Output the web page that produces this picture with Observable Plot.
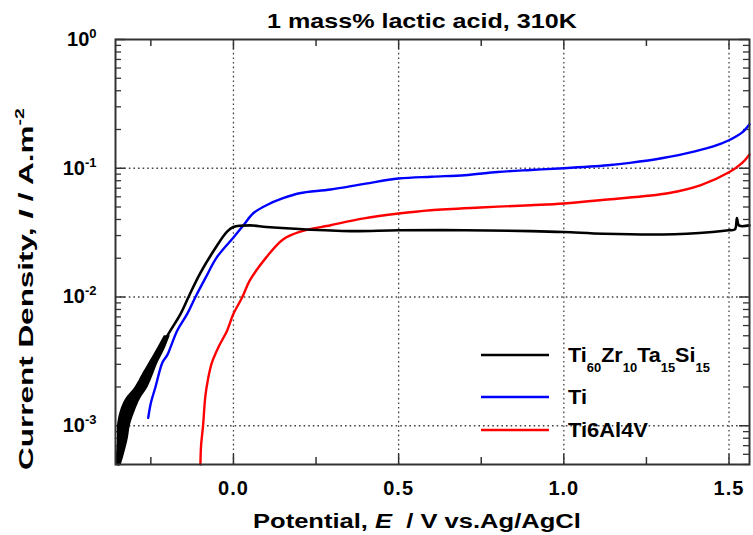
<!DOCTYPE html>
<html><head><meta charset="utf-8">
<script src="https://cdn.jsdelivr.net/npm/d3@7"></script>
<script src="https://cdn.jsdelivr.net/npm/@observablehq/plot@0.6"></script>
<style>
html,body{margin:0;padding:0;background:#fff}
svg{display:block}
</style>
</head><body>
<div id="chart"></div>
<script>
// ---------- data ----------
const chartTitle = "1 mass% lactic acid, 310K";
const seriesNames = ["Ti60Zr10Ta15Si15", "Ti", "Ti6Al4V"];
const seriesColors = ["#000000", "#0000ff", "#ff0000"];

const xDomain = [-0.357, 1.562];
const yDomain = [5e-4, 1];
const xMajorTicks = [0, 0.5, 1.0, 1.5];
const xMinorTicks = [-0.25, 0.25, 0.75, 1.25];
const xGridTicks = [0, 0.5, 1.0, 1.5];
const yMajorTicks = [1e-3, 1e-2, 1e-1, 1];
const yGridTicks = [1e-3, 1e-2, 1e-1];
const yMinorTicks = [5e-4, 6e-4, 7e-4, 8e-4, 9e-4,
  2e-3, 3e-3, 4e-3, 5e-3, 6e-3, 7e-3, 8e-3, 9e-3,
  2e-2, 3e-2, 4e-2, 5e-2, 6e-2, 7e-2, 8e-2, 9e-2,
  2e-1, 3e-1, 4e-1, 5e-1, 6e-1, 7e-1, 8e-1, 9e-1];

// Ti60Zr10Ta15Si15 (black)
const blackE = [-0.348, -0.342, -0.335, -0.331, -0.320, -0.305, -0.278, -0.259, -0.244, -0.218, -0.200,
  -0.160, -0.136, -0.100, -0.050, -0.020, 0.000, 0.050, 0.100, 0.200, 0.355, 0.500, 0.700, 0.900,
  1.000, 1.120, 1.300, 1.450, 1.500, 1.518, 1.524, 1.530, 1.562];
const blackI = [5.0e-4, 6.0e-4, 8.0e-4, 1.0e-3, 1.3e-3, 1.6e-3, 2.0e-3, 2.5e-3, 3.0e-3, 4.0e-3, 5.0e-3,
  7.4e-3, 1.0e-2, 1.54e-2, 2.5e-2, 3.2e-2, 3.5e-2, 3.6e-2, 3.5e-2, 3.37e-2, 3.25e-2, 3.3e-2, 3.3e-2, 3.25e-2,
  3.2e-2, 3.1e-2, 3.06e-2, 3.2e-2, 3.3e-2, 3.35e-2, 4.1e-2, 3.6e-2, 3.6e-2];
// noisy band of the black curve at low current (left/right edge potentials)
const bandI  = [5e-4, 6e-4, 8e-4, 1e-3, 1.3e-3, 1.6e-3, 2e-3, 2.5e-3, 3e-3, 4e-3, 5e-3];
const bandLo = [-0.357, -0.354, -0.351, -0.351, -0.342, -0.327, -0.297, -0.276, -0.258, -0.230, -0.209];
const bandHi = [-0.339, -0.330, -0.318, -0.312, -0.297, -0.282, -0.258, -0.242, -0.230, -0.206, -0.191];

// Ti (blue)
const blueE = [-0.258, -0.250, -0.236, -0.215, -0.200, -0.190, -0.170, -0.140, -0.115, -0.085, -0.050,
  0.000, 0.030, 0.060, 0.100, 0.150, 0.200, 0.294, 0.400, 0.500, 0.600, 0.700, 0.800, 0.900, 1.000,
  1.133, 1.200, 1.300, 1.400, 1.450, 1.500, 1.540, 1.562];
const blueI = [1.15e-3, 1.5e-3, 2.0e-3, 3.1e-3, 3.55e-3, 4.1e-3, 5.5e-3, 7.4e-3, 1.0e-2, 1.4e-2, 2.04e-2,
  2.9e-2, 3.6e-2, 4.47e-2, 5.16e-2, 5.85e-2, 6.4e-2, 6.84e-2, 7.6e-2, 8.32e-2, 8.6e-2, 8.83e-2, 9.36e-2, 9.7e-2, 1.0e-1,
  1.055e-1, 1.1e-1, 1.2e-1, 1.36e-1, 1.47e-1, 1.65e-1, 1.9e-1, 2.2e-1];

// Ti6Al4V (red)
const redE = [-0.100, -0.098, -0.092, -0.085, -0.077, -0.065, -0.045, -0.019, 0.000, 0.027, 0.050,
  0.100, 0.150, 0.200, 0.294, 0.395, 0.500, 0.597, 0.748, 0.900, 1.000, 1.133, 1.315, 1.415,
  1.500, 1.540, 1.562];
const redI = [5e-4, 7e-4, 1.0e-3, 1.7e-3, 2.3e-3, 3.1e-3, 4.1e-3, 5.5e-3, 7.4e-3, 1.0e-2, 1.35e-2,
  2.04e-2, 2.8e-2, 3.2e-2, 3.61e-2, 4.08e-2, 4.45e-2, 4.72e-2, 4.96e-2, 5.16e-2, 5.32e-2, 5.72e-2, 6.4e-2, 7.4e-2,
  9.3e-2, 1.1e-1, 1.28e-1];

// ---------- tables ----------
const toRows = (E, I) => E.map((e, i) => ({E: e, I: I[i]}));
const blackData = toRows(blackE, blackI);
const blueData = toRows(blueE, blueI);
const redData = toRows(redE, redI);
const bandData = bandI.map((v, i) => ({I: v, lo: bandLo[i], hi: bandHi[i]}));

// ---------- layout ----------
const W = 753, H = 535;
const mL = 115, mR = 4, mT = 39, mB = 71;
const iW = W - mL - mR, iH = H - mT - mB;
const FONT = "'Liberation Sans', Arial, Helvetica, sans-serif";
const axisColor = "#333";
const gridStyle = {stroke: "#444", strokeOpacity: 1, strokeWidth: 1.3, strokeDasharray: "1.6,3"};

const svg = Plot.plot({
  width: W, height: H,
  marginLeft: mL, marginRight: mR, marginTop: mT, marginBottom: mB,
  style: {fontFamily: FONT, background: "#fff", color: "#000"},
  x: {domain: xDomain},
  y: {type: "log", domain: yDomain},
  marks: [
    Plot.gridX(xGridTicks, gridStyle),
    Plot.gridY(yGridTicks, gridStyle),
    // inward ticks on all four sides
    Plot.ruleX(xMajorTicks, {x: d => d, insetTop: iH - 10, stroke: axisColor, strokeWidth: 1.5}),
    Plot.ruleX(xMajorTicks, {x: d => d, insetBottom: iH - 10, stroke: axisColor, strokeWidth: 1.5}),
    Plot.ruleX(xMinorTicks, {x: d => d, insetTop: iH - 7, stroke: axisColor, strokeWidth: 1.5}),
    Plot.ruleX(xMinorTicks, {x: d => d, insetBottom: iH - 7, stroke: axisColor, strokeWidth: 1.5}),
    Plot.ruleY(yMajorTicks, {y: d => d, insetRight: iW - 10, stroke: axisColor, strokeWidth: 1.5}),
    Plot.ruleY(yMajorTicks, {y: d => d, insetLeft: iW - 10, stroke: axisColor, strokeWidth: 1.5}),
    Plot.ruleY(yMinorTicks, {y: d => d, insetRight: iW - 6, stroke: axisColor, strokeWidth: 1.3}),
    Plot.ruleY(yMinorTicks, {y: d => d, insetLeft: iW - 6, stroke: axisColor, strokeWidth: 1.3}),
    // curves
    Plot.areaX(bandData, {y: "I", x1: "lo", x2: "hi", fill: seriesColors[0], curve: "catmull-rom"}),
    Plot.line(redData, {x: "E", y: "I", stroke: seriesColors[2], strokeWidth: 2.4, curve: "catmull-rom"}),
    Plot.line(blueData, {x: "E", y: "I", stroke: seriesColors[1], strokeWidth: 2.4, curve: "catmull-rom"}),
    Plot.line(blackData, {x: "E", y: "I", stroke: seriesColors[0], strokeWidth: 2.6, curve: "catmull-rom"}),
    // axes labels
    Plot.axisX(xMajorTicks, {tickSize: 0, tickPadding: 16, tickFormat: d => d.toFixed(1),
      fontSize: 20, fontWeight: "bold", label: null}),
    Plot.axisY(yMajorTicks, {tickSize: 0, tickPadding: 19, tickFormat: d => String(Math.round(Math.log10(d))),
      fontSize: 20, fontWeight: "bold", label: null}),
    Plot.frame({stroke: axisColor, strokeWidth: 2})
  ]
});
document.getElementById("chart").appendChild(svg);

const S = d3.select(svg);
S.selectAll("text").attr("font-weight", "bold");
S.selectAll('g[aria-label="x-axis tick label"] text').attr("letter-spacing", "1px");

// superscript exponents on the y tick labels
S.selectAll('g[aria-label="y-axis tick label"] text').each(function () {
  const t = d3.select(this);
  const exp = t.text().replace("−", "-");
  t.text("10");
  t.append("tspan").attr("dy", "-8").attr("font-size", 13).text(exp);
});

function fit(sel, target) {
  const w = sel.node().getComputedTextLength();
  return w > 0 ? target / w : 1;
}
const g = S.append("g").attr("font-family", FONT).attr("font-weight", "bold")
  .attr("fill", "#000").attr("text-anchor", "start");

// title
const tt = g.append("text").attr("font-size", 20).text(chartTitle);
tt.attr("transform", `translate(267,28) scale(${fit(tt, 310)},1)`);

// x label
const xl = g.append("text").attr("font-size", 21).attr("xml:space", "preserve");
xl.append("tspan").text("Potential, ");
xl.append("tspan").attr("font-style", "italic").text("E");
xl.append("tspan").text("\u00a0 / V vs.Ag/AgCl");
xl.attr("transform", `translate(253,528) scale(${fit(xl, 328)},1)`);

// y label
const yl = g.append("text").attr("font-size", 21);
yl.append("tspan").text("Current Density, ");
yl.append("tspan").attr("font-style", "italic").text("I");
yl.append("tspan").text(" / A.m");
yl.append("tspan").attr("dy", -9).attr("font-size", 13).text("-2");
yl.attr("transform", `translate(33,470) rotate(-90) scale(${fit(yl, 362)},1)`);

// legend
const legendRows = [
  {parts: [["Ti", 0], ["60", 1], ["Zr", 0], ["10", 1], ["Ta", 0], ["15", 1], ["Si", 0], ["15", 1]], width: 142},
  {parts: [["Ti", 0]], width: 19},
  {parts: [["Ti6Al4V", 0]], width: 80}
];
const legendY = [355, 397, 430];
legendRows.forEach((row, i) => {
  const y = legendY[i];
  g.append("line").attr("x1", 481).attr("x2", 549).attr("y1", y).attr("y2", y)
    .attr("stroke", seriesColors[i]).attr("stroke-width", 2.6);
  const t = g.append("text").attr("font-size", 20);
  let sub = false;
  row.parts.forEach(([s, isSub]) => {
    const ts = t.append("tspan").text(s);
    if (isSub && !sub) { ts.attr("dy", 10).attr("font-size", 12); sub = true; }
    else if (isSub) { ts.attr("font-size", 12); }
    else if (!isSub && sub) { ts.attr("dy", -10); sub = false; }
  });
  t.attr("transform", `translate(568,${y + 6.5}) scale(${fit(t, row.width)},1)`);
});
</script>
</body></html>
